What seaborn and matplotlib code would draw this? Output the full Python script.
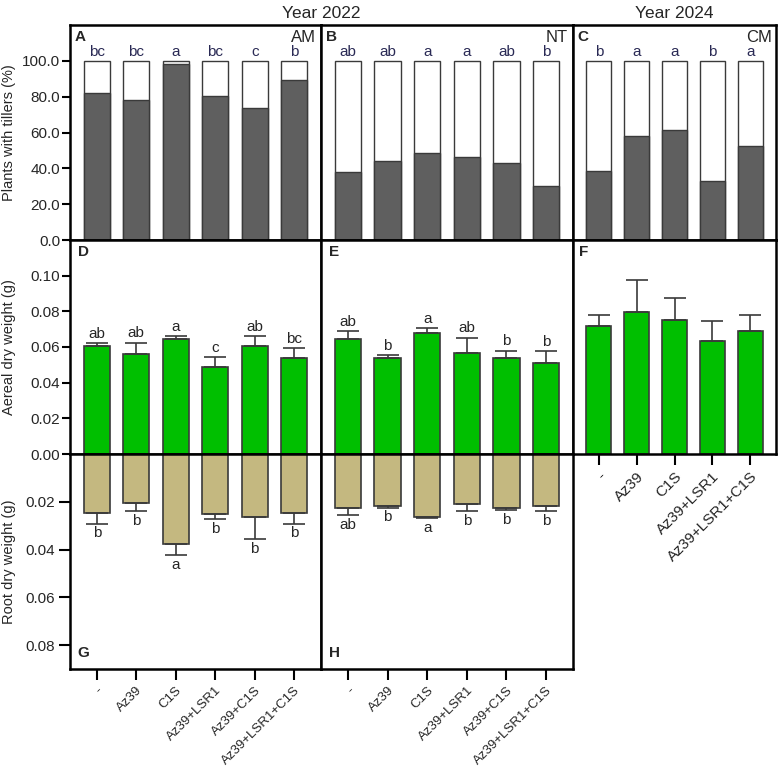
import numpy as np
import pandas as pd
import matplotlib
matplotlib.use("Agg")
import matplotlib.pyplot as plt
import seaborn as sns

sns.set_theme(style="white")
plt.rcParams['font.family'] = ['Liberation Sans', 'DejaVu Sans']

trt_6 = ['-', 'Az39', 'C1S', 'Az39+LSR1', 'Az39+C1S', 'Az39+LSR1+C1S']
trt_5 = ['-', 'Az39', 'C1S', 'Az39+LSR1', 'Az39+LSR1+C1S']

# plants with tillers (%)
tillers_am = [81.8, 78.3, 98.2, 80.1, 73.8, 89.1]
tillers_nt = [37.9, 43.9, 48.7, 46.1, 42.8, 29.9]
tillers_cm = [38.7, 58.2, 61.2, 33.1, 52.6]
letters_am = ['bc', 'bc', 'a', 'bc', 'c', 'b']
letters_nt = ['ab', 'ab', 'a', 'a', 'ab', 'b']
letters_cm = ['b', 'a', 'a', 'b', 'a']

# aereal dry weight (g)
aer_d = [0.0605, 0.0562, 0.0644, 0.0487, 0.0608, 0.0536]
aer_d_err = [0.0015, 0.0063, 0.0019, 0.0056, 0.0053, 0.0058]
aer_d_let = ['ab', 'ab', 'a', 'c', 'ab', 'bc']
aer_e = [0.0644, 0.0541, 0.0680, 0.0564, 0.0538, 0.0508]
aer_e_err = [0.0045, 0.0013, 0.0026, 0.0089, 0.0042, 0.0069]
aer_e_let = ['ab', 'b', 'a', 'ab', 'b', 'b']
aer_f = [0.0717, 0.0799, 0.0749, 0.0633, 0.0687]
aer_f_err = [0.0063, 0.0177, 0.0125, 0.0114, 0.0092]

# root dry weight (g)
root_g = [0.0249, 0.0204, 0.0375, 0.0253, 0.0264, 0.0246]
root_g_err = [0.0042, 0.0035, 0.0047, 0.0020, 0.0092, 0.0045]
root_g_let = ['b', 'b', 'a', 'b', 'b', 'b']
root_h = [0.0226, 0.0217, 0.0263, 0.0210, 0.0225, 0.0217]
root_h_err = [0.0031, 0.0007, 0.0004, 0.0028, 0.0010, 0.0021]
root_h_let = ['ab', 'b', 'a', 'b', 'b', 'b']

GREEN = '#00bf00'
TAN = '#c4b880'
DARK = '#5f5f5f'
EDGE = '#3a3a3a'
NAVY = '#2a2a55'

W, H = 779, 770
fig = plt.figure(figsize=(W / 100, H / 100), dpi=100)


def add_ax(x0, y0, x1, y1):
    return fig.add_axes([x0 / W, 1 - y1 / H, (x1 - x0) / W, (y1 - y0) / H])


xs = [70, 321, 573, 776]
ax_a = add_ax(xs[0], 25, xs[1], 240)
ax_b = add_ax(xs[1], 25, xs[2], 240)
ax_c = add_ax(xs[2], 25, xs[3], 240)
ax_d = add_ax(xs[0], 240, xs[1], 454)
ax_e = add_ax(xs[1], 240, xs[2], 454)
ax_f = add_ax(xs[2], 240, xs[3], 454)
ax_g = add_ax(xs[0], 454, xs[1], 669)
ax_h = add_ax(xs[1], 454, xs[2], 669)


def style(ax, n):
    ax.set_xlim(-0.68, n - 1 + 0.68)
    for s in ax.spines.values():
        s.set_visible(True)
        s.set_linewidth(1.8)
        s.set_color('black')
    ax.set_xlabel('')
    ax.set_ylabel('')
    ax.tick_params(axis='both', which='both', direction='out', length=6,
                   width=1.5, color='black', labelsize=11, pad=1,
                   bottom=False, left=False, labelbottom=False, labelleft=False)


def tiller_panel(ax, vals, labels, cats, tag, site):
    df = pd.DataFrame({'trt': cats, 'full': [100.0] * len(cats), 'val': vals})
    sns.barplot(data=df, x='trt', y='full', order=cats, color='white',
                edgecolor=EDGE, linewidth=1, width=0.66, saturation=1, ax=ax)
    sns.barplot(data=df, x='trt', y='val', order=cats, color=DARK,
                edgecolor=EDGE, linewidth=1, width=0.66, saturation=1, ax=ax)
    style(ax, len(cats))
    ax.set_ylim(0, 120)
    for i, l in enumerate(labels):
        ax.text(i, 101.2, l, ha='center', va='bottom', fontsize=11, color=NAVY)
    ax.text(0.02, 0.975, tag, transform=ax.transAxes, ha='left', va='top',
            fontsize=11, fontweight='bold')
    ax.text(0.98, 0.975, site, transform=ax.transAxes, ha='right', va='top',
            fontsize=12)


def weight_panel(ax, vals, errs, labels, cats, color, ymax, inverted, tag):
    df = pd.DataFrame({'trt': cats, 'val': vals})
    sns.barplot(data=df, x='trt', y='val', order=cats, color=color,
                edgecolor=EDGE, linewidth=1.2, width=0.66, saturation=1, ax=ax)
    x = np.arange(len(cats))
    ax.errorbar(x, vals, yerr=[np.zeros(len(errs)), errs], fmt='none',
                ecolor=EDGE, elinewidth=1.2, capsize=8, capthick=1.2)
    style(ax, len(cats))
    if inverted:
        ax.set_ylim(ymax, 0)
    else:
        ax.set_ylim(0, ymax)
    if labels is not None:
        for i, l in enumerate(labels):
            top = vals[i] + errs[i]
            if inverted:
                ax.text(i, top + 0.0012, l, ha='center', va='top', fontsize=11)
            else:
                ax.text(i, top + 0.0012, l, ha='center', va='bottom', fontsize=11)
    if inverted:
        ax.text(0.03, 0.04, tag, transform=ax.transAxes, ha='left',
                va='bottom', fontsize=11, fontweight='bold')
    else:
        ax.text(0.03, 0.975, tag, transform=ax.transAxes, ha='left',
                va='top', fontsize=11, fontweight='bold')


tiller_panel(ax_a, tillers_am, letters_am, trt_6, 'A', 'AM')
tiller_panel(ax_b, tillers_nt, letters_nt, trt_6, 'B', 'NT')
tiller_panel(ax_c, tillers_cm, letters_cm, trt_5, 'C', 'CM')

weight_panel(ax_d, aer_d, aer_d_err, aer_d_let, trt_6, GREEN, 0.12, False, 'D')
weight_panel(ax_e, aer_e, aer_e_err, aer_e_let, trt_6, GREEN, 0.12, False, 'E')
weight_panel(ax_f, aer_f, aer_f_err, None, trt_5, GREEN, 0.12, False, 'F')
weight_panel(ax_g, root_g, root_g_err, root_g_let, trt_6, TAN, 0.09, True, 'G')
weight_panel(ax_h, root_h, root_h_err, root_h_let, trt_6, TAN, 0.09, True, 'H')

# y axes
ax_a.tick_params(left=True, labelleft=True)
ax_a.set_yticks([0, 20, 40, 60, 80, 100])
ax_a.set_yticklabels([f'{v:.1f}' for v in [0, 20, 40, 60, 80, 100]])
ax_d.tick_params(left=True, labelleft=True)
ax_d.set_yticks([0, 0.02, 0.04, 0.06, 0.08, 0.10])
ax_d.set_yticklabels([f'{v:.2f}' for v in [0, 0.02, 0.04, 0.06, 0.08, 0.10]])
ax_g.tick_params(left=True, labelleft=True)
ax_g.set_yticks([0.02, 0.04, 0.06, 0.08])
ax_g.set_yticklabels([f'{v:.2f}' for v in [0.02, 0.04, 0.06, 0.08]])

ax_a.set_ylabel('Plants with tillers (%)', fontsize=10.5)
ax_d.set_ylabel('Aereal dry weight (g)', fontsize=10.5)
ax_g.set_ylabel('Root dry weight (g)', fontsize=10.5)
for ax in (ax_a, ax_d, ax_g):
    ax.yaxis.set_label_coords(-0.215, 0.5)

# x axes
for ax, cats, fs in ((ax_f, trt_5, 11), (ax_g, trt_6, 9.5), (ax_h, trt_6, 9.5)):
    ax.tick_params(bottom=True, labelbottom=True, length=8, pad=3)
    ax.set_xticks(range(len(cats)))
    ax.set_xticklabels(cats, rotation=45, ha='right', rotation_mode='anchor',
                       fontsize=fs)

fig.text((xs[0] + xs[2]) / 2 / W, 1 - 13 / H, 'Year 2022', ha='center',
         va='center', fontsize=12.5)
fig.text((xs[2] + xs[3]) / 2 / W, 1 - 13 / H, 'Year 2024', ha='center',
         va='center', fontsize=12.5)

fig.savefig('out.png', dpi=100)
